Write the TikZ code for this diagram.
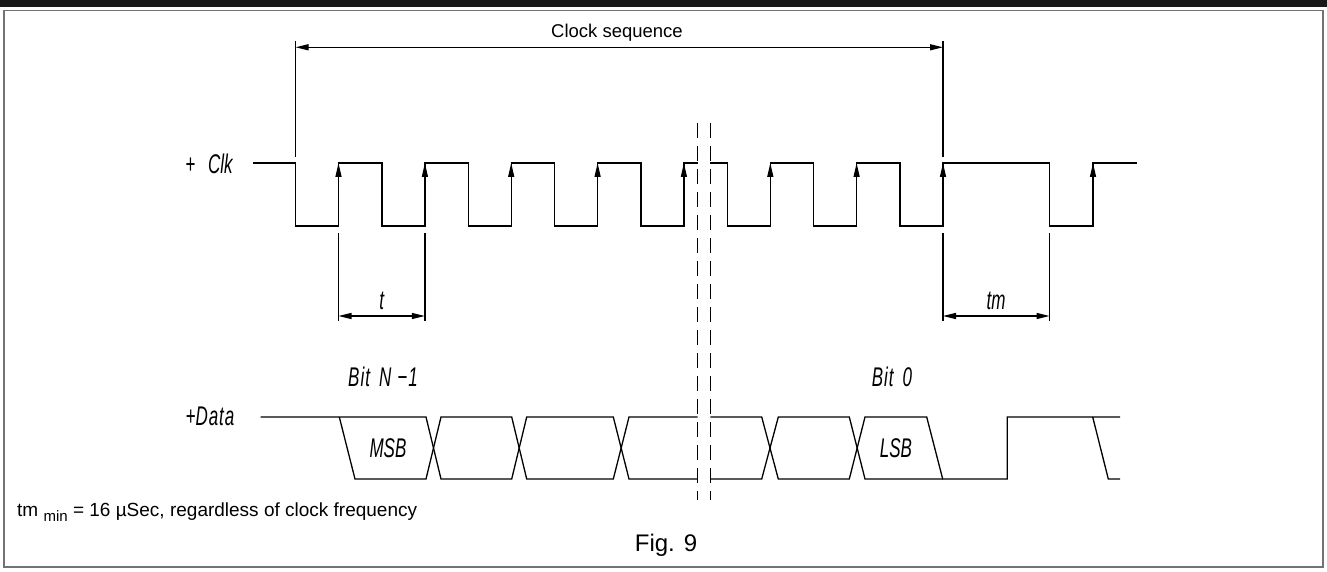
\documentclass[tikz,border=0pt]{standalone}
\usepackage{fontspec}
\setmainfont{Liberation Sans}
\newfontfamily\isofont[FakeStretch=0.63]{Liberation Sans}
\usetikzlibrary{arrows.meta}

\tikzset{
  wave/.style={line width=1.3pt, line join=miter},
  extline/.style={line width=1.3pt},
  edgearrow/.style={line width=1.3pt, -{Triangle[length=14pt,width=6pt]}},
  dimline/.style={line width=1.3pt, {Triangle[length=13pt,width=6pt]}-{Triangle[length=13pt,width=6pt]}},
  breakline/.style={line width=1.2pt, dash pattern=on 15pt off 8pt},
  isolabel/.style={font=\isofont\itshape\fontsize{27}{27}\selectfont, inner sep=0pt},
  plainlabel/.style={font=\fontsize{18.5}{20}\selectfont, inner sep=0pt}
}

\begin{document}
\begin{tikzpicture}[x=1pt,y=-1pt]
\path[use as bounding box] (0,0) rectangle (1327,572);

% frame
\fill[black!90] (0,0) rectangle (1327,7.5);
\draw[black!55, line width=1.5pt] (4,10.5) rectangle (1323,567);

% clock sequence
\draw[extline] (295.5,41) -- (295.5,157);
\draw[extline] (943,41) -- (943,157);
\coordinate (seqL) at (295.5,47.3);
\coordinate (seqR) at (943,47.3);
\draw[dimline] (seqL) -- (seqR);
\node[plainlabel, anchor=base] (seqlabel) at (617,37.3) {Clock sequence};

% clock
\node[isolabel] (clklabel) at (209,164) {+\hspace{13pt}Clk};
\draw[wave] (253,163) -- (295.5,163) -- (295.5,226) -- (338.5,226) -- (338.5,163) -- (382,163) -- (382,226) -- (424.9,226) -- (424.9,163) -- (468.4,163) -- (468.4,226) -- (511.2,226) -- (511.2,163) -- (554.7,163) -- (554.7,226) -- (597.6,226) -- (597.6,163) -- (641,163) -- (641,226) -- (683.9,226) -- (683.9,163) -- (697.7,163);
\draw[wave] (710.3,163) -- (727.4,163) -- (727.4,226) -- (770.3,226) -- (770.3,163) -- (813.8,163) -- (813.8,226) -- (856.6,226) -- (856.6,163) -- (900.1,163) -- (900.1,226) -- (943,226) -- (943,163) -- (1049.6,163) -- (1049.6,226) -- (1093,226) -- (1093,163) -- (1137,163);
\draw[edgearrow] (338.5,210) -- (338.5,163);
\draw[edgearrow] (424.9,210) -- (424.9,163);
\draw[edgearrow] (511.2,210) -- (511.2,163);
\draw[edgearrow] (597.6,210) -- (597.6,163);
\draw[edgearrow] (683.9,210) -- (683.9,163);
\draw[edgearrow] (770.3,210) -- (770.3,163);
\draw[edgearrow] (856.6,210) -- (856.6,163);
\draw[edgearrow] (943,210) -- (943,163);
\draw[edgearrow] (1093,210) -- (1093,163);

% t and tm
\draw[extline] (338.5,233) -- (338.5,321);
\draw[extline] (424.9,233) -- (424.9,321);
\draw[dimline] (338.5,316) -- (424.9,316);
\node[isolabel] (tlabel) at (381.7,301) {t};
\draw[extline] (943,233) -- (943,321);
\draw[extline] (1049.6,233) -- (1049.6,321);
\draw[dimline] (943,316) -- (1049.6,316);
\node[isolabel] (tmlabel) at (996,301) {tm};

% break
\draw[breakline] (697.7,123) -- (697.7,500);
\draw[breakline] (710.3,123) -- (710.3,500);

% data
\node[isolabel] (datalabel) at (210,416) {+D\hspace{1pt}a\hspace{1pt}t\hspace{1pt}a};
\node[isolabel] (bitn) at (383,377) {B\hspace{1pt}i\hspace{1pt}t\hspace{9pt}N\hspace{6pt}−\hspace{1pt}1};
\node[isolabel] (bitzero) at (892,377) {B\hspace{1pt}i\hspace{1pt}t\hspace{9pt}0};
\draw[wave] (260.7,417) -- (426,417) -- (441,479) -- (511.7,479) -- (526.7,417) -- (613.3,417) -- (629,479) -- (697.7,479);
\draw[wave] (339.3,417) -- (355,479) -- (426,479) -- (441,417) -- (511.7,417) -- (526.7,479) -- (613.3,479) -- (629,417) -- (697.7,417);
\draw[wave] (710.3,417) -- (761.7,417) -- (778.3,479) -- (849.3,479) -- (865,417) -- (926.7,417) -- (942.7,479) -- (1007.3,479) -- (1007.3,417) -- (1120,417);
\draw[wave] (710.3,479) -- (761.7,479) -- (778.3,417) -- (849.3,417) -- (865,479) -- (942.7,479);
\draw[wave] (1092.7,417) -- (1108.3,479) -- (1120,479);
\node[isolabel] (msb) at (388,448) {MSB};
\node[isolabel] (lsb) at (896,448) {LSB};

% notes
\node[plainlabel, font=\fontsize{19}{20}\selectfont, anchor=base west] (tmnote) at (17,516.7) {tm \raisebox{-5pt}{\fontsize{15}{15}\selectfont min} = 16 µSec, regardless of clock frequency};
\node[font=\fontsize{24}{24}\selectfont, inner sep=0pt, anchor=base] (figlabel) at (666,551.7) {Fig. 9};
\end{tikzpicture}
\end{document}
